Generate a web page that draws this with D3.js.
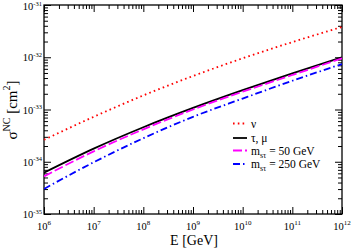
<!DOCTYPE html>
<html><head><meta charset="utf-8">
<script src="https://cdn.jsdelivr.net/npm/d3@7"></script>
<style>
html,body{margin:0;padding:0;background:#fff;}
text{font-family:"Liberation Serif","DejaVu Serif",serif;fill:#000;}
</style></head>
<body><svg id="c" width="353" height="248"></svg>
<script>
const energies = [1e6, 1e7, 1e8, 1e9, 1e10, 1e11, 1e12];
const nuValues    = [2.63e-34, 7.24e-34, 1.86e-33, 4.37e-33, 9.55e-33, 1.95e-32, 3.80e-32];
const tauMuValues = [6.17e-35, 1.78e-34, 4.57e-34, 1.07e-33, 2.34e-33, 4.90e-33, 1.00e-32];
const m50Values   = [5.25e-35, 1.58e-34, 4.17e-34, 1.00e-33, 2.19e-33, 4.57e-33, 9.55e-33];
const m250Values  = [3.02e-35, 9.77e-35, 2.82e-34, 7.24e-34, 1.62e-33, 3.55e-33, 7.41e-33];
const xTickExps = [6, 7, 8, 9, 10, 11, 12];
const yTickExps = [-35, -34, -33, -32, -31];

const svg = d3.select("#c");
const L = 44, R = 342, T = 5, B = 214;
const x = d3.scaleLog().domain([1e6, 1e12]).range([L, R]);
const y = d3.scaleLog().domain([1e-35, 1e-31]).range([B, T]);

function minors(lo, hi) {
  const out = [];
  for (let e = lo; e < hi; e++) for (let k = 2; k <= 9; k++) out.push(k * Math.pow(10, e));
  return out;
}
const xMaj = xTickExps.map(e => Math.pow(10, e));
const yMaj = yTickExps.map(e => Math.pow(10, e));
const xMin = minors(6, 12), yMin = minors(-35, -31);

function drawAxis(gen, tr) {
  const g = svg.append("g").attr("transform", tr).call(gen);
  g.selectAll("text").remove();
  g.select(".domain").remove();
  g.selectAll("line").attr("stroke", "#000").attr("stroke-width", 1);
}
const MJ = 7, MN = 4;
drawAxis(d3.axisBottom(x).tickValues(xMaj).tickSize(-MJ), `translate(0,${B})`);
drawAxis(d3.axisBottom(x).tickValues(xMin).tickSize(-MN), `translate(0,${B})`);
drawAxis(d3.axisTop(x).tickValues(xMaj).tickSize(-MJ), `translate(0,${T})`);
drawAxis(d3.axisTop(x).tickValues(xMin).tickSize(-MN), `translate(0,${T})`);
drawAxis(d3.axisLeft(y).tickValues(yMaj).tickSize(-MJ), `translate(${L},0)`);
drawAxis(d3.axisLeft(y).tickValues(yMin).tickSize(-MN), `translate(${L},0)`);
drawAxis(d3.axisRight(y).tickValues(yMaj).tickSize(-MJ), `translate(${R},0)`);
drawAxis(d3.axisRight(y).tickValues(yMin).tickSize(-MN), `translate(${R},0)`);

svg.append("rect").attr("x", L).attr("y", T).attr("width", R - L).attr("height", B - T)
  .attr("fill", "none").attr("stroke", "#000").attr("stroke-width", 1.3);

// tick labels
xTickExps.forEach(e => {
  const t = svg.append("text").attr("x", x(Math.pow(10, e))).attr("y", 230)
    .attr("text-anchor", "middle").attr("font-size", 10.5);
  t.append("tspan").text("10");
  t.append("tspan").attr("font-size", 7).attr("dy", -5).text(String(e));
});
yTickExps.forEach(e => {
  const t = svg.append("text").attr("x", 42).attr("y", Math.max(y(Math.pow(10, e)) + 4, 10))
    .attr("text-anchor", "end").attr("font-size", 10.5);
  t.append("tspan").text("10");
  t.append("tspan").attr("font-size", 6.5).attr("dy", -4.5).text(String(e));
});

// axis titles
svg.append("text").attr("x", 194).attr("y", 244.5).attr("text-anchor", "middle")
  .attr("font-size", 14).text("E [GeV]");
const yl = svg.append("text").attr("transform", "translate(17,110) rotate(-90)")
  .attr("text-anchor", "middle").attr("font-size", 15);
yl.append("tspan").text("σ");
yl.append("tspan").attr("font-size", 10).attr("dy", -7).text("NC");
yl.append("tspan").attr("dy", 7).text(" [cm");
yl.append("tspan").attr("font-size", 10).attr("dy", -7).text("2");
yl.append("tspan").attr("dy", 7).text("]");

const series = [
  {vals: nuValues, color: "#ff0000", dash: "1.6,3.2", w: 1.8},
  {vals: tauMuValues, color: "#000000", dash: null, w: 1.8},
  {vals: m50Values, color: "#ff00ff", dash: "9,3", w: 1.8},
  {vals: m250Values, color: "#0000ff", dash: "7,3,1.5,3", w: 1.8}
];
const line = d3.line().x(d => x(d[0])).y(d => y(d[1])).curve(d3.curveMonotoneX);
svg.append("clipPath").attr("id", "cp").append("rect")
  .attr("x", L).attr("y", T).attr("width", R - L).attr("height", B - T);
series.forEach(s => {
  svg.append("path").attr("clip-path", "url(#cp)")
    .attr("d", line(energies.map((e, i) => [e, s.vals[i]])))
    .attr("fill", "none").attr("stroke", s.color).attr("stroke-width", s.w)
    .attr("stroke-dasharray", s.dash);
});

// legend
const legY = [123.5, 138, 150.5, 164];
const legLabels = [["ν", null], ["τ, μ", null], ["m", "sτ", " = 50 GeV"], ["m", "sτ", " = 250 GeV"]];
series.forEach((s, i) => {
  svg.append("line").attr("x1", 233).attr("x2", 247).attr("y1", legY[i]).attr("y2", legY[i])
    .attr("stroke", s.color).attr("stroke-width", s.w).attr("stroke-dasharray", s.dash);
  const t = svg.append("text").attr("x", 251).attr("y", legY[i] + 4).attr("font-size", 11.5);
  const lab = legLabels[i];
  t.append("tspan").text(lab[0]);
  if (lab[1]) {
    t.append("tspan").attr("font-size", 8).attr("dy", 3).text(lab[1]);
    t.append("tspan").attr("dy", -3).text(lab[2]);
  }
});
</script></body></html>
